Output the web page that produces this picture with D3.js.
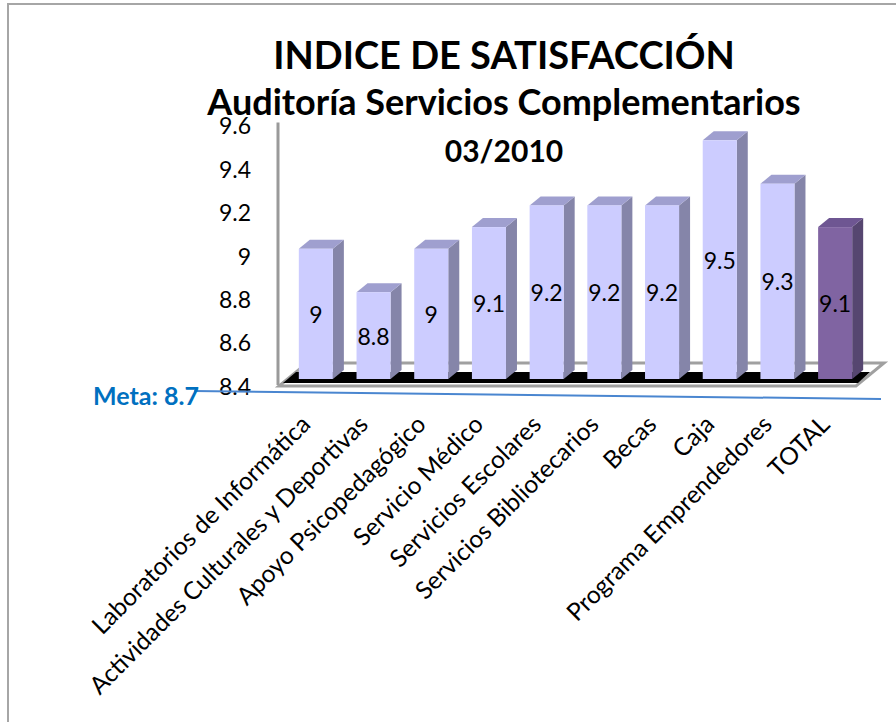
<!DOCTYPE html>
<html>
<head>
<meta charset="utf-8">
<script src="https://cdn.jsdelivr.net/npm/d3@7"></script>
<style>
  body { margin: 0; background: #fff; }
  text { font-family: Lato, "Open Sans", sans-serif; }
</style>
</head>
<body>
<div id="chart"></div>
<script>
// data
const categories = [
  "Laboratorios de Informática",
  "Actividades Culturales y Deportivas",
  "Apoyo Psicopedagógico",
  "Servicio Médico",
  "Servicios Escolares",
  "Servicios Bibliotecarios",
  "Becas",
  "Caja",
  "Programa Emprendedores",
  "TOTAL"
];
const values = [9, 8.8, 9, 9.1, 9.2, 9.2, 9.2, 9.5, 9.3, 9.1];
const tickValues = [8.4, 8.6, 8.8, 9, 9.2, 9.4, 9.6];
const metaValue = 8.7;
const titleLines = ["INDICE DE SATISFACCIÓN", "Auditoría Servicios Complementarios", "03/2010"];

const width = 896, height = 722;
const depthX = 11, depthY = 9;

let svg = d3.select("#chart")
  .append("svg")
  .attr("width", width)
  .attr("height", height);

// chart frame (only left and top edges show)
svg.append("rect")
  .attr("x", 8).attr("y", 4)
  .attr("width", 1000).attr("height", 1000)
  .attr("fill", "none")
  .attr("stroke", "#a6a6a6")
  .attr("stroke-width", 2);

// scales
let x = d3.scaleBand()
  .domain(categories)
  .range([287, 864])
  .paddingInner(0.41)
  .paddingOuter(0.205);

let y = d3.scaleLinear()
  .domain([8.4, 9.6])
  .range([379, 118.6]);

const y0 = y(8.4);
const bw = x.bandwidth();
const left = x.range()[0];
const right = x.range()[1];

// back wall edge
svg.append("line")
  .attr("x1", left - 9).attr("x2", left - 9)
  .attr("y1", y(9.6) + 4).attr("y2", y0 + 6)
  .attr("stroke", "#9a9a9a")
  .attr("stroke-width", 3);

// floor slab
let outerFloor = [
  [left - 8, y0 + 7], [right - 8, y0 + 7],
  [right + 20, y0 - 16], [left + 20, y0 - 16]
];
svg.append("polygon")
  .attr("points", outerFloor.map(p => p.join(",")).join(" "))
  .attr("fill", "#fff")
  .attr("stroke", "#a0a0a0")
  .attr("stroke-width", 3);

let innerFloor = [
  [left - 4, y0 + 4], [right - 6, y0 + 4],
  [right + 6, y0 - 7], [left + 9, y0 - 7]
];
svg.append("polygon")
  .attr("points", innerFloor.map(p => p.join(",")).join(" "))
  .attr("fill", "#000");

// y axis labels
let yAxis = svg.append("g")
  .attr("transform", "translate(258,8)")
  .call(d3.axisLeft(y).tickValues(tickValues).tickSize(0).tickPadding(7)
    .tickFormat(d => d3.format("~g")(d)));
yAxis.select(".domain").remove();
yAxis.selectAll("text")
  .attr("font-family", "Lato, sans-serif")
  .attr("font-size", 23)
  .attr("fill", "#000");

// 3d columns
const faceColors = {
  normal: { front: "#ccccff", side: "#8585a9", top: "#9f9fcf" },
  total: { front: "#8064a2", side: "#564670", top: "#6e5692" }
};

let bars = svg.append("g")
  .selectAll("g")
  .data(values)
  .enter()
  .append("g");

bars.each(function (d, i) {
  let g = d3.select(this);
  let c = categories[i] === "TOTAL" ? faceColors.total : faceColors.normal;
  let bx = x(categories[i]);
  let by = y(d);

  g.append("polygon")
    .attr("points", [
      [bx + bw, by], [bx + bw + depthX, by - depthY],
      [bx + bw + depthX, y0 - depthY], [bx + bw, y0]
    ].map(p => p.join(",")).join(" "))
    .attr("fill", c.side);

  g.append("polygon")
    .attr("points", [
      [bx, by], [bx + depthX, by - depthY],
      [bx + bw + depthX, by - depthY], [bx + bw, by]
    ].map(p => p.join(",")).join(" "))
    .attr("fill", c.top);

  g.append("rect")
    .attr("x", bx)
    .attr("y", by)
    .attr("width", bw)
    .attr("height", y0 - by)
    .attr("fill", c.front);

  g.append("text")
    .attr("x", bx + bw / 2)
    .attr("y", (by + y0) / 2)
    .attr("text-anchor", "middle")
    .attr("dominant-baseline", "central")
    .attr("font-size", 23)
    .attr("fill", "#000")
    .text(d3.format("~g")(d));
});

// category labels
svg.append("g")
  .selectAll("text")
  .data(categories)
  .enter()
  .append("text")
  .attr("transform", d => `translate(${x(d) + bw / 2 - 4},${y0 + 47}) rotate(-45)`)
  .attr("text-anchor", "end")
  .attr("font-size", 24.5)
  .attr("fill", "#000")
  .text(d => d);

// goal annotation
svg.append("line")
  .attr("x1", 194).attr("y1", y0 + 12)
  .attr("x2", right + 17).attr("y2", y0 + 20)
  .attr("stroke", "#4a86d0")
  .attr("stroke-width", 2);

svg.append("text")
  .attr("x", 93)
  .attr("y", y0 + 26)
  .attr("font-size", 25)
  .attr("font-weight", "bold")
  .attr("fill", "#0070c0")
  .text("Meta: " + metaValue);

// titles
svg.append("g")
  .selectAll("text")
  .data(titleLines)
  .enter()
  .append("text")
  .attr("x", 504)
  .attr("y", (d, i) => [69, 115, 162][i])
  .attr("text-anchor", "middle")
  .attr("font-weight", "bold")
  .attr("font-size", (d, i) => [38, 36, 30][i])
  .attr("fill", "#000")
  .text(d => d);
</script>
</body>
</html>
